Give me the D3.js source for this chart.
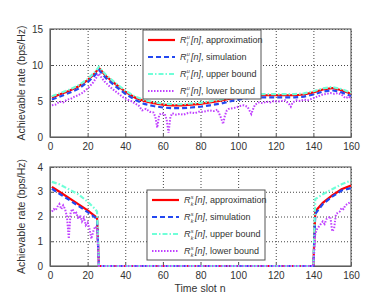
<!DOCTYPE html>
<html lang="en">
<head>
    <meta charset="UTF-8">
    <title>Achievable rate vs time slot</title>
    <script src="https://d3js.org/d3.v7.min.js"></script>
    <style>
        body {
            margin: 0;
            background-color: #ffffff;
            font-family: Arial, 'Liberation Sans', sans-serif;
        }
        .axis text {
            font-size: 10px;
            fill: #333;
        }
        .axis path, .axis line {
            stroke: #555;
        }
        .grid line {
            stroke: #444;
            stroke-dasharray: 1, 2;
        }
        .grid path {
            display: none;
        }
    </style>
</head>
<body>
    <svg width="388" height="299" class="chart"></svg>

    <script>
        // ---------- data: upper plot (R_l^u) ----------
        const topSlots = [1, 5, 10, 15, 20, 24, 26, 28, 30, 35, 40, 45, 50, 55, 60, 65, 70, 75, 80, 85, 90, 95, 100, 105, 110, 115, 120, 125, 130, 135, 140, 145, 150, 155, 160];
        const topApprox = [5.5, 5.9, 6.4, 7.0, 7.9, 8.9, 9.6, 9.0, 8.4, 7.3, 6.3, 5.5, 5.0, 4.7, 4.5, 4.4, 4.4, 4.5, 4.6, 4.8, 5.0, 5.3, 5.5, 5.7, 5.8, 5.8, 5.8, 5.8, 5.8, 5.9, 6.2, 6.6, 6.8, 6.5, 6.0];
        const topSim = [5.2, 5.6, 6.1, 6.7, 7.6, 8.6, 9.3, 8.7, 8.1, 7.0, 6.0, 5.2, 4.6, 4.3, 4.1, 4.0, 4.0, 4.1, 4.2, 4.4, 4.6, 4.9, 5.2, 5.4, 5.5, 5.5, 5.5, 5.5, 5.5, 5.6, 5.9, 6.3, 6.5, 6.2, 5.7];
        const topUpper = [5.65, 6.05, 6.55, 7.15, 8.05, 9.05, 9.75, 9.15, 8.55, 7.45, 6.45, 5.65, 5.15, 4.85, 4.65, 4.55, 4.55, 4.65, 4.75, 4.95, 5.15, 5.45, 5.65, 5.85, 5.95, 5.95, 5.95, 5.95, 5.95, 6.05, 6.35, 6.75, 6.95, 6.65, 6.15];
        const topLowerSlots = [1, 3, 5, 7, 9, 11, 13, 15, 17, 19, 21, 23, 25, 26, 27, 29, 31, 33, 35, 37, 39, 41, 43, 45, 47, 49, 51, 53, 55, 56, 57, 58, 59, 61, 62, 63, 64, 65, 67, 69, 71, 73, 75, 77, 79, 81, 83, 85, 87, 89, 90, 91, 92, 93, 94, 95, 97, 99, 101, 103, 105, 106, 107, 108, 109, 111, 113, 115, 117, 119, 121, 123, 125, 127, 128, 129, 131, 133, 135, 137, 139, 141, 143, 145, 147, 149, 151, 153, 155, 157, 159, 160];
        const topLower = [4.4, 4.5, 4.9, 4.8, 5.2, 5.3, 5.6, 5.8, 6.1, 6.5, 7.0, 7.6, 8.4, 8.8, 8.4, 7.7, 7.2, 6.7, 6.3, 5.9, 5.5, 5.2, 5.0, 4.7, 4.4, 3.7, 3.9, 3.5, 3.4, 2.8, 1.3, 3.0, 3.3, 3.2, 2.4, 0.6, 2.8, 3.3, 3.1, 3.2, 3.1, 3.3, 3.4, 3.3, 3.5, 3.5, 3.6, 3.7, 3.6, 3.8, 3.2, 2.6, 1.8, 3.0, 3.7, 3.9, 4.0, 4.1, 4.3, 4.4, 4.2, 3.7, 3.2, 3.9, 4.5, 4.8, 4.7, 4.9, 4.8, 5.0, 4.9, 5.0, 5.1, 4.6, 4.2, 4.8, 5.1, 5.0, 5.2, 5.1, 5.3, 5.5, 5.7, 5.9, 6.0, 6.1, 6.0, 6.1, 5.9, 5.4, 5.6, 5.2];

        // ---------- data: lower plot (R_k^s) ----------
        const botSlots = [1, 5, 10, 15, 20, 25, 26, 140, 141, 145, 150, 155, 160];
        const botApprox = [3.2, 3.0, 2.75, 2.5, 2.25, 1.95, 0, 0, 2.2, 2.55, 2.85, 3.1, 3.25];
        const botSim = [3.12, 2.92, 2.68, 2.43, 2.18, 1.9, 0, 0, 2.1, 2.5, 2.8, 3.05, 3.15];
        const botUpperSlots = [1, 5, 10, 15, 20, 24, 25, 26, 140, 141, 145, 150, 155, 160];
        const botUpper = [3.4, 3.3, 3.1, 2.9, 2.6, 2.3, 2.2, 0, 0, 2.7, 2.9, 3.1, 3.3, 3.45];
        const botLowerSlots = [1, 2, 3, 4, 5, 6, 7, 8, 9, 10, 11, 12, 13, 14, 15, 16, 17, 18, 19, 20, 21, 22, 23, 24, 25, 26, 140, 141, 142, 143, 144, 145, 146, 147, 148, 149, 150, 151, 152, 153, 154, 155, 156, 157, 158, 159, 160];
        const botLower = [2.2, 2.3, 2.25, 2.4, 2.5, 2.3, 2.45, 2.3, 2.0, 1.1, 2.2, 2.3, 2.1, 2.15, 1.9, 2.05, 1.8, 1.95, 1.65, 1.75, 1.5, 1.1, 1.4, 1.6, 1.5, 0, 0, 1.3, 1.5, 1.6, 1.7, 1.8, 1.7, 1.9, 1.95, 2.0, 1.4, 1.5, 2.1, 2.15, 2.2, 2.35, 2.3, 2.45, 2.5, 2.55, 2.6];

        const xTicks = [0, 20, 40, 60, 80, 100, 120, 140, 160];
        const topYTicks = [0, 5, 10, 15];
        const botYTicks = [0, 1, 2, 3, 4];
        const legendLabels = ["approximation", "simulation", "upper bound", "lower bound"];

        const styles = [
            { color: "#ff0000", dash: null, width: 2.2 },
            { color: "#2348f0", dash: "5,3", width: 2.2 },
            { color: "#70ffd8", dash: "5,2,1.5,2", width: 2.2 },
            { color: "#c040ff", dash: "1.5,1.5", width: 2 }
        ];

        const svg = d3.select(".chart");

        function drawPanel(cfg) {
            const x = d3.scaleLinear().domain([0, 160]).range([cfg.left, cfg.right]);
            const y = d3.scaleLinear().domain([0, cfg.yMax]).range([cfg.bottom, cfg.top]);
            const g = svg.append("g");

            // grid
            g.append("g").attr("class", "grid")
                .attr("transform", `translate(0, ${cfg.bottom})`)
                .call(d3.axisBottom(x).tickValues(xTicks).tickSize(-(cfg.bottom - cfg.top)).tickFormat(""));
            g.append("g").attr("class", "grid")
                .attr("transform", `translate(${cfg.left}, 0)`)
                .call(d3.axisLeft(y).tickValues(cfg.yTicks).tickSize(-(cfg.right - cfg.left)).tickFormat(""));

            // axes (ticks inside)
            g.append("g").attr("class", "axis")
                .attr("transform", `translate(0, ${cfg.bottom})`)
                .call(d3.axisBottom(x).tickValues(xTicks).tickSizeInner(-3).tickSizeOuter(0).tickPadding(6));
            g.append("g").attr("class", "axis")
                .attr("transform", `translate(${cfg.left}, 0)`)
                .call(d3.axisLeft(y).tickValues(cfg.yTicks).tickFormat(d3.format("d"))
                    .tickSizeInner(-3).tickSizeOuter(0).tickPadding(7));

            // frame
            g.append("rect")
                .attr("x", cfg.left).attr("y", cfg.top)
                .attr("width", cfg.right - cfg.left).attr("height", cfg.bottom - cfg.top)
                .attr("fill", "none").attr("stroke", "#666").attr("stroke-width", 1.2);

            // series (drawn over the frame, as in the original)
            const line = d3.line().x(d => x(d[0])).y(d => y(d[1]));
            cfg.series.forEach((s, i) => {
                const pts = s.slots.map((n, j) => [n, s.values[j]]);
                g.append("path")
                    .datum(pts)
                    .attr("fill", "none")
                    .attr("stroke", styles[i].color)
                    .attr("stroke-width", styles[i].width)
                    .attr("stroke-dasharray", styles[i].dash)
                    .attr("d", line);
            });

            // y label
            g.append("text")
                .attr("transform", `translate(25, ${(cfg.top + cfg.bottom) / 2}) rotate(-90)`)
                .attr("text-anchor", "middle")
                .style("font-size", "10.5px")
                .style("fill", "#333")
                .text("Achievable rate (bps/Hz)");

            // legend
            const L = cfg.legend;
            g.append("rect")
                .attr("x", L.x).attr("y", L.y).attr("width", L.w).attr("height", L.h)
                .attr("fill", "#fff").attr("stroke", "#555").attr("stroke-width", 1);
            legendLabels.forEach((lab, i) => {
                const ry = L.y + 10 + i * L.step;
                g.append("line")
                    .attr("x1", L.x + 5).attr("x2", L.x + 32)
                    .attr("y1", ry).attr("y2", ry)
                    .attr("stroke", styles[i].color)
                    .attr("stroke-width", styles[i].width)
                    .attr("stroke-dasharray", styles[i].dash);
                const tx = L.x + 37;
                const r = g.append("text")
                    .attr("x", tx).attr("y", ry + 3)
                    .style("font-size", "9px").style("font-style", "italic").style("fill", "#333")
                    .text("R");
                const rw = r.node().getComputedTextLength();
                // stacked superscript / subscript
                g.append("text")
                    .attr("x", tx + rw + 0.3).attr("y", ry - 1.2)
                    .style("font-size", "5.5px").style("font-style", "italic").style("fill", "#333")
                    .text(L.sup);
                g.append("text")
                    .attr("x", tx + rw + 0.3).attr("y", ry + 6)
                    .style("font-size", "5.5px").style("font-style", "italic").style("fill", "#333")
                    .text(L.sub);
                const rest = g.append("text")
                    .attr("x", tx + rw + 4.5).attr("y", ry + 3)
                    .style("font-size", "9px").style("fill", "#333");
                rest.append("tspan").style("font-style", "italic").text("[n]");
                rest.append("tspan").text(", " + lab);
            });
        }

        drawPanel({
            left: 50, right: 351, top: 29, bottom: 137, yMax: 15, yTicks: topYTicks,
            series: [
                { slots: topSlots, values: topApprox },
                { slots: topSlots, values: topSim },
                { slots: topSlots, values: topUpper },
                { slots: topLowerSlots, values: topLower }
            ],
            legend: { x: 143, y: 30, w: 118, h: 69, step: 17, sup: "u", sub: "l" }
        });

        drawPanel({
            left: 50, right: 351, top: 167, bottom: 266, yMax: 4, yTicks: botYTicks,
            series: [
                { slots: botSlots, values: botApprox },
                { slots: botSlots, values: botSim },
                { slots: botUpperSlots, values: botUpper },
                { slots: botLowerSlots, values: botLower }
            ],
            legend: { x: 147, y: 190, w: 118, h: 70, step: 17, sup: "s", sub: "k" }
        });

        svg.append("text")
            .attr("x", 200).attr("y", 292)
            .attr("text-anchor", "middle")
            .style("font-size", "10.5px")
            .style("fill", "#333")
            .text("Time slot n");
    </script>
</body>
</html>
